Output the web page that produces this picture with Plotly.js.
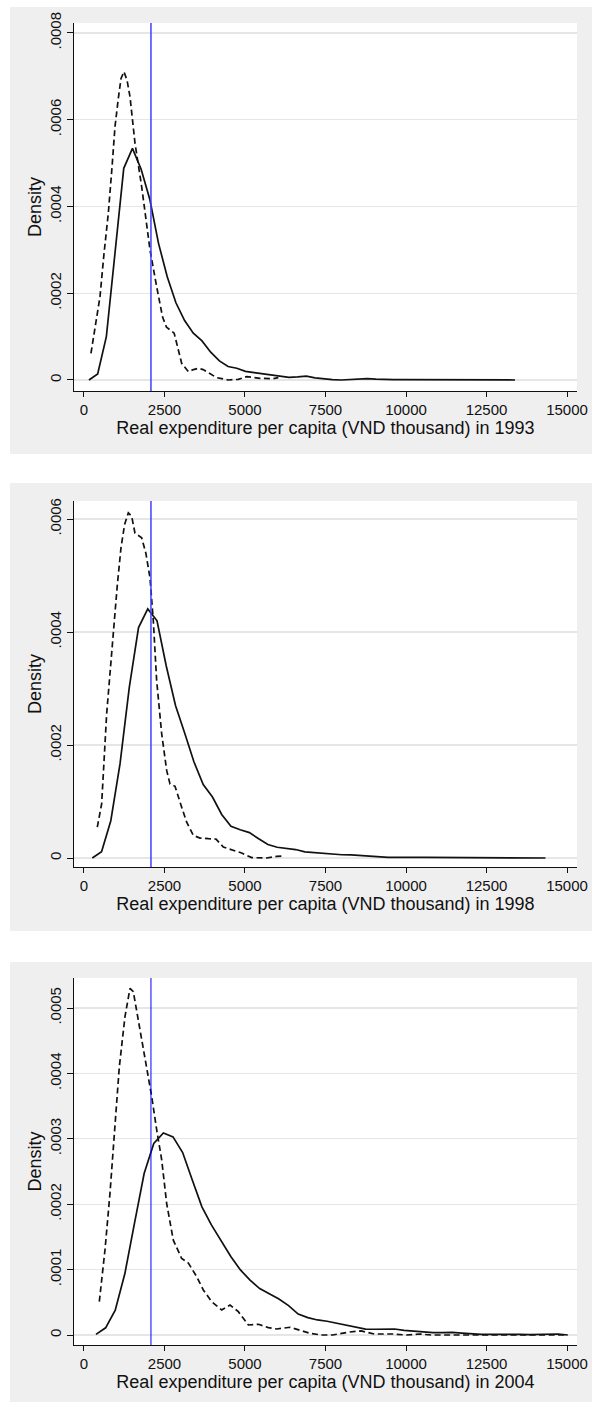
<!DOCTYPE html>
<html><head><meta charset="utf-8">
<script src="https://cdn.plot.ly/plotly-3.0.1.min.js"></script>
<style>
html,body{margin:0;padding:0;background:#ffffff;}
body{width:592px;height:1402px;position:relative;overflow:hidden;}
.p{position:absolute;left:10px;width:582px;}
</style>
</head><body>
<div id="p1" class="p" style="top:7px;height:447px"></div>
<div id="p2" class="p" style="top:483px;height:448px"></div>
<div id="p3" class="p" style="top:962px;height:440px"></div>
<script>
// ---------- data ----------
const years = ['1993', '1998', '2004'];
const povertyLine = 2080;
const xTickVals = [0, 2500, 5000, 7500, 10000, 12500, 15000];
const xTickText = ['0', '2500', '5000', '7500', '10000', '12500', '15000'];

const yTickVals1993 = [0, 0.0002, 0.0004, 0.0006, 0.0008];
const yTickText1993 = ['0', '.0002', '.0004', '.0006', '.0008'];
const yTickVals1998 = [0, 0.0002, 0.0004, 0.0006];
const yTickText1998 = ['0', '.0002', '.0004', '.0006'];
const yTickVals2004 = [0, 0.0001, 0.0002, 0.0003, 0.0004, 0.0005];
const yTickText2004 = ['0', '.0001', '.0002', '.0003', '.0004', '.0005'];

// 1993 solid
const x1993Solid = [155, 425, 695, 965, 1235, 1505, 1775, 2045, 2315, 2585, 2855, 3125, 3395, 3665, 3935, 4205, 4475, 4745, 5015, 5285, 5555, 5825, 6095, 6365, 6635, 6905, 7175, 7445, 7715, 7985, 8255, 8525, 8795, 9065, 9335, 9605, 9875, 10145, 10415, 10685, 10955, 11225, 11495, 11765, 12035, 12305, 12575, 12845, 13115, 13385];
const d1993Solid = [0, 0.000014, 0.0001, 0.000294, 0.000488, 0.000534, 0.000486, 0.000416, 0.000315, 0.000238, 0.000178, 0.000137, 0.000108, 0.00009, 0.000064, 0.000044, 0.000031, 0.000027, 0.00002, 0.000017, 0.000014, 0.000011, 0.000008, 0.000006, 0.000007, 0.000009, 0.000005, 0.0000025, 0.000001, 0, 0.000001, 0.000002, 0.000003, 0.000002, 0.000001, 0.000001, 0.000001, 0.000001, 0.0000005, 0, 0, 0, 0.000001, 0.0000005, 0, 0, 0, 0, 0.0000003, 0];
// 1993 dashed
const x1993Dashed = [217, 350, 497, 620, 755, 870, 963, 1066, 1150, 1242, 1340, 1429, 1584, 1791, 2050, 2257, 2441, 2560, 2700, 2800, 3034, 3241, 3400, 3552, 3700, 3810, 4121, 4482, 4793, 5053, 5467, 5881, 6036];
const d1993Dashed = [0.0000615, 0.000125, 0.000192, 0.00029, 0.000384, 0.00049, 0.000584, 0.000649, 0.000695, 0.000711, 0.00069, 0.000653, 0.000546, 0.000446, 0.0003, 0.000215, 0.000145, 0.000122, 0.000115, 0.000108, 0.0000384, 0.0000192, 0.000024, 0.000027, 0.000024, 0.0000192, 0.0000054, 0, 0.0000015, 0.0000077, 0.0000038, 0.000003, 0.0000054];

// 1998 solid
const x1998Solid = [259, 546, 833, 1120, 1407, 1694, 1981, 2268, 2555, 2842, 3129, 3416, 3703, 3990, 4277, 4564, 4851, 5138, 5425, 5712, 5999, 6286, 6573, 6860, 7147, 7434, 7721, 8008, 8295, 8582, 8869, 9156, 9443, 9730, 10017, 10304, 10591, 10878, 11165, 11452, 12026, 12600, 13174, 13748, 14331];
const d1998Solid = [0, 0.000011, 0.000066, 0.000167, 0.000302, 0.000408, 0.000441, 0.00042, 0.00034, 0.00027, 0.000221, 0.00017, 0.00013, 0.000108, 0.000077, 0.000056, 0.00005, 0.000045, 0.000034, 0.000024, 0.000019, 0.000017, 0.000015, 0.000011, 0.0000095, 0.0000075, 0.000006, 0.0000058, 0.0000055, 0.0000045, 0.000003, 0.0000012, 0.0000012, 0.0000012, 0.0000018, 0.0000012, 0.0000012, 0.0000012, 0.0000003, 0, 0, 0, 0, 0, 0];
// 1998 dashed
const x1998Dashed = [414, 549, 704, 911, 1030, 1149, 1260, 1377, 1481, 1584, 1791, 1920, 2050, 2153, 2257, 2413, 2568, 2671, 2827, 3034, 3189, 3396, 3603, 3862, 4100, 4327, 4638, 4897, 5208, 5674, 5985, 6212];
const d1998Dashed = [0.0000547, 0.000096, 0.000255, 0.000408, 0.00048, 0.000549, 0.00059, 0.000611, 0.000605, 0.000575, 0.000567, 0.00054, 0.000496, 0.00042, 0.000314, 0.00022, 0.000155, 0.000131, 0.000127, 0.00009, 0.0000635, 0.00004, 0.0000353, 0.0000342, 0.0000335, 0.0000194, 0.0000136, 0.0000088, 0.0000007, 0, 0.000003, 0.0000035];

// 2004 solid
const x2004Solid = [373, 672, 971, 1270, 1569, 1868, 2167, 2466, 2765, 3064, 3363, 3662, 3961, 4260, 4559, 4858, 5157, 5456, 5755, 6054, 6353, 6652, 6951, 7250, 7549, 7848, 8147, 8446, 8745, 9044, 9343, 9642, 9941, 10240, 10539, 10838, 11137, 11436, 11735, 12034, 12333, 12632, 12931, 13230, 13529, 13828, 14127, 14426, 14725, 15024];
const d2004Solid = [0.000001, 0.000011, 0.000038, 0.000094, 0.000171, 0.000247, 0.000293, 0.000309, 0.000303, 0.000279, 0.000237, 0.000196, 0.000168, 0.000145, 0.00012, 0.0000995, 0.000084, 0.000071, 0.000063, 0.000055, 0.000045, 0.000032, 0.0000265, 0.000023, 0.000021, 0.000018, 0.000015, 0.000011, 0.000009, 0.0000088, 0.000009, 0.0000092, 0.000007, 0.0000055, 0.000004, 0.0000035, 0.0000036, 0.000004, 0.000003, 0.0000015, 0.000001, 0.000001, 0.0000012, 0.0000015, 0.000001, 0.0000005, 0.000001, 0.000002, 0.0000015, 0];
// 2004 dashed
const x2004Dashed = [476, 652, 808, 963, 1097, 1273, 1429, 1532, 1739, 1967, 2102, 2257, 2413, 2568, 2774, 3034, 3241, 3500, 3706, 3966, 4277, 4535, 4793, 5104, 5415, 5726, 5985, 6399, 6709, 7020, 7371, 7723, 8251, 8603, 9014, 9601, 10012, 10423, 10775, 11500, 12500, 13500, 14530, 15000];
const d2004Dashed = [0.000051, 0.00013, 0.000217, 0.000314, 0.00041, 0.000487, 0.00053, 0.000525, 0.000467, 0.0004, 0.000365, 0.000314, 0.000268, 0.000201, 0.000145, 0.000117, 0.00011, 0.0000892, 0.0000689, 0.000051, 0.0000383, 0.0000459, 0.0000357, 0.0000153, 0.0000164, 0.0000112, 0.0000092, 0.0000118, 0.0000077, 0.0000026, 0, 0, 0.0000046, 0.0000062, 0.0000015, 0.0000015, 0, 0.0000015, 0, 0, 0, 0, 0.000001, 0];

// ---------- drawing ----------
const FONT = 'Liberation Sans, Arial, Helvetica, sans-serif';
const INK = '#111111';

function draw(id, year, xs, ds, xd, dd, yRange, yVals, yText, margin, blueColor, blueWidth) {
  const traces = [
    {x: xd, y: dd, type: 'scatter', mode: 'lines', line: {color: INK, width: 1.7, dash: '6px,3.5px'}, hoverinfo: 'skip'},
    {x: xs, y: ds, type: 'scatter', mode: 'lines', line: {color: INK, width: 1.7}, hoverinfo: 'skip'}
  ];
  const layout = {
    width: 582, height: margin.h,
    margin: {l: margin.l, r: margin.r, t: margin.t, b: margin.b, pad: 0},
    paper_bgcolor: '#efefef', plot_bgcolor: '#ffffff',
    showlegend: false,
    font: {family: FONT, size: 15, color: INK},
    xaxis: {
      range: [-310, 15310], tickmode: 'array', tickvals: xTickVals, ticktext: xTickText,
      showgrid: false, zeroline: false, showline: true, linecolor: INK, linewidth: 1,
      ticks: 'outside', ticklen: 5, tickwidth: 1, tickcolor: INK,
      tickfont: {family: FONT, size: 15, color: INK},
      title: {text: 'Real expenditure per capita (VND thousand) in ' + year, font: {family: FONT, size: 18, color: INK}, standoff: 0},
      fixedrange: true
    },
    yaxis: {
      range: yRange, tickmode: 'array', tickvals: yVals, ticktext: yText, tickangle: -90,
      showgrid: true, gridcolor: '#e6e6e6', gridwidth: 1.3, zeroline: false,
      showline: true, linecolor: INK, linewidth: 1,
      ticks: 'outside', ticklen: 6, tickwidth: 1, tickcolor: INK,
      tickfont: {family: FONT, size: 15, color: INK},
      title: {text: 'Density', font: {family: FONT, size: 18, color: INK}, standoff: 0},
      fixedrange: true
    },
    shapes: [{
      type: 'line', xref: 'x', yref: 'paper', x0: povertyLine, x1: povertyLine, y0: 0, y1: 1,
      line: {color: blueColor, width: blueWidth}, layer: 'above'
    }]
  };
  Plotly.newPlot(id, traces, layout, {staticPlot: true, displayModeBar: false});
}

draw('p1', years[0], x1993Solid, d1993Solid, x1993Dashed, d1993Dashed,
  [-0.0000254, 0.000823], yTickVals1993, yTickText1993,
  {h: 447, l: 64, r: 15, t: 16, b: 63}, '#4040ff', 1.5);
draw('p2', years[1], x1998Solid, d1998Solid, x1998Dashed, d1998Dashed,
  [-0.0000159, 0.000632], yTickVals1998, yTickText1998,
  {h: 448, l: 64, r: 15, t: 18, b: 64}, '#4040ff', 1.5);
draw('p3', years[2], x2004Solid, d2004Solid, x2004Dashed, d2004Dashed,
  [-0.0000153, 0.000546], yTickVals2004, yTickText2004,
  {h: 440, l: 64, r: 15, t: 16, b: 57}, '#0000ff', 1);
</script>
</body></html>
